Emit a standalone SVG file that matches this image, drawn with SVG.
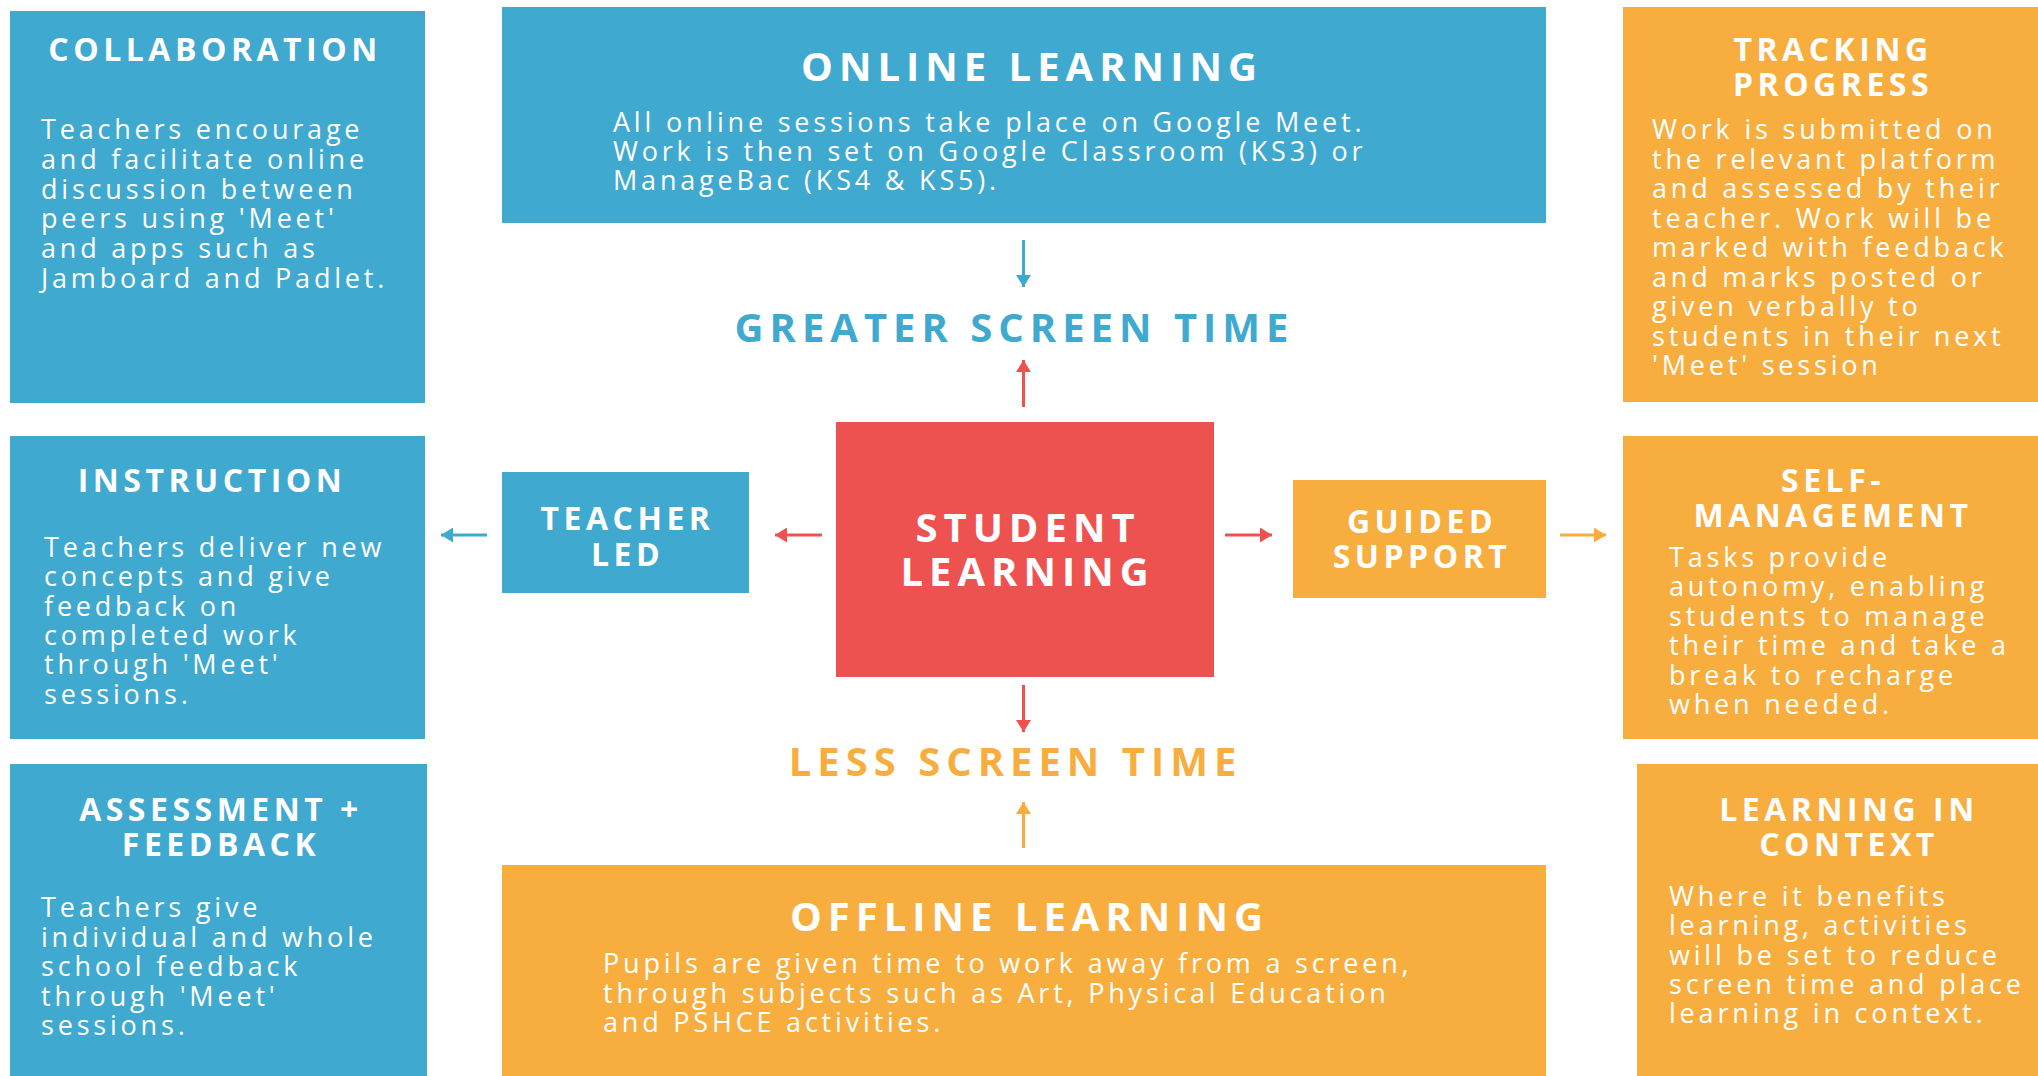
<svg xmlns="http://www.w3.org/2000/svg" width="2038" height="1076" viewBox="0 0 2038 1076">
  <style>
    .blue { fill: #3FA9CF; }
    .orange { fill: #F8AE3F; }
    .red { fill: #EE5250; }
    .title { font-family: "Open Sans", "Noto Sans", "Liberation Sans", sans-serif; font-weight: 700; font-size: 32px; letter-spacing: 4.5px; fill: #FFFFFF; text-anchor: middle; }
    .big { font-family: "Open Sans", "Noto Sans", "Liberation Sans", sans-serif; font-weight: 700; font-size: 40px; letter-spacing: 6px; text-anchor: middle; }
    .body { font-family: "Open Sans", "Noto Sans", "Liberation Sans", sans-serif; font-weight: 400; font-size: 27px; letter-spacing: 3.8px; fill: #FFFFFF; }
    .link { fill: none; stroke-width: 3; }
  </style>
  <defs>
    <marker id="head-blue" markerUnits="userSpaceOnUse" markerWidth="12" markerHeight="15" refX="12" refY="7.5" orient="auto">
      <path d="M0,0 L12,7.5 L0,15 Z" fill="#3FA9CF"/>
    </marker>
    <marker id="head-red" markerUnits="userSpaceOnUse" markerWidth="12" markerHeight="15" refX="12" refY="7.5" orient="auto">
      <path d="M0,0 L12,7.5 L0,15 Z" fill="#EE5250"/>
    </marker>
    <marker id="head-orange" markerUnits="userSpaceOnUse" markerWidth="12" markerHeight="15" refX="12" refY="7.5" orient="auto">
      <path d="M0,0 L12,7.5 L0,15 Z" fill="#F8AE3F"/>
    </marker>
  </defs>

  <rect width="2038" height="1076" fill="#FFFFFF"/>

  <!-- left column -->
  <g id="collaboration">
    <rect class="blue" x="10" y="11" width="415" height="392"/>
    <text class="title" x="215" y="61">COLLABORATION</text>
    <text class="body" x="41" y="139">
      <tspan x="41">Teachers encourage</tspan>
      <tspan x="41" dy="29.8">and facilitate online</tspan>
      <tspan x="41" dy="29.8">discussion between</tspan>
      <tspan x="41" dy="29.8">peers using 'Meet'</tspan>
      <tspan x="41" dy="29.8">and apps such as</tspan>
      <tspan x="41" dy="29.8">Jamboard and Padlet.</tspan>
    </text>
  </g>

  <g id="instruction">
    <rect class="blue" x="10" y="436" width="415" height="303"/>
    <text class="title" x="212" y="492">INSTRUCTION</text>
    <text class="body" x="44" y="557">
      <tspan x="44">Teachers deliver new</tspan>
      <tspan x="44" dy="29.3">concepts and give</tspan>
      <tspan x="44" dy="29.3">feedback on</tspan>
      <tspan x="44" dy="29.3">completed work</tspan>
      <tspan x="44" dy="29.3">through 'Meet'</tspan>
      <tspan x="44" dy="29.3">sessions.</tspan>
    </text>
  </g>

  <g id="assessment-feedback">
    <rect class="blue" x="10" y="764" width="417" height="312"/>
    <text class="title" x="221" y="821">ASSESSMENT +</text>
    <text class="title" x="221" y="856">FEEDBACK</text>
    <text class="body" x="41" y="917">
      <tspan x="41">Teachers give</tspan>
      <tspan x="41" dy="29.5">individual and whole</tspan>
      <tspan x="41" dy="29.5">school feedback</tspan>
      <tspan x="41" dy="29.5">through 'Meet'</tspan>
      <tspan x="41" dy="29.5">sessions.</tspan>
    </text>
  </g>

  <!-- centre column -->
  <g id="online-learning">
    <rect class="blue" x="502" y="7" width="1044" height="216"/>
    <text class="big" x="1032" y="81" fill="#FFFFFF">ONLINE LEARNING</text>
    <text class="body" x="613" y="132">
      <tspan x="613">All online sessions take place on Google Meet.</tspan>
      <tspan x="613" dy="29">Work is then set on Google Classroom (KS3) or</tspan>
      <tspan x="613" dy="29">ManageBac (KS4 &amp; KS5).</tspan>
    </text>
  </g>

  <g id="greater-screen-time">
    <text class="big" x="1014.5" y="342" fill="#3FA9CF">GREATER SCREEN TIME</text>
  </g>

  <g id="teacher-led">
    <rect class="blue" x="502" y="472" width="247" height="121"/>
    <text class="title" x="627.5" y="530">TEACHER</text>
    <text class="title" x="627.5" y="566">LED</text>
  </g>

  <g id="student-learning">
    <rect class="red" x="836" y="422" width="378" height="255"/>
    <text class="big" x="1028" y="542" fill="#FFFFFF">STUDENT</text>
    <text class="big" x="1027.5" y="586" fill="#FFFFFF">LEARNING</text>
  </g>

  <g id="guided-support">
    <rect class="orange" x="1293" y="480" width="253" height="118"/>
    <text class="title" x="1422" y="533">GUIDED</text>
    <text class="title" x="1422" y="568">SUPPORT</text>
  </g>

  <g id="less-screen-time">
    <text class="big" x="1015.5" y="776" fill="#F8AE3F">LESS SCREEN TIME</text>
  </g>

  <g id="offline-learning">
    <rect class="orange" x="502" y="865" width="1044" height="211"/>
    <text class="big" x="1029.5" y="931" fill="#FFFFFF">OFFLINE LEARNING</text>
    <text class="body" x="603" y="973">
      <tspan x="603">Pupils are given time to work away from a screen,</tspan>
      <tspan x="603" dy="29.5">through subjects such as Art, Physical Education</tspan>
      <tspan x="603" dy="29.5">and PSHCE activities.</tspan>
    </text>
  </g>

  <!-- right column -->
  <g id="tracking-progress">
    <rect class="orange" x="1623" y="7" width="415" height="395"/>
    <text class="title" x="1833" y="61">TRACKING</text>
    <text class="title" x="1833" y="96">PROGRESS</text>
    <text class="body" x="1652" y="139">
      <tspan x="1652">Work is submitted on</tspan>
      <tspan x="1652" dy="29.5">the relevant platform</tspan>
      <tspan x="1652" dy="29.5">and assessed by their</tspan>
      <tspan x="1652" dy="29.5">teacher. Work will be</tspan>
      <tspan x="1652" dy="29.5">marked with feedback</tspan>
      <tspan x="1652" dy="29.5">and marks posted or</tspan>
      <tspan x="1652" dy="29.5">given verbally to</tspan>
      <tspan x="1652" dy="29.5">students in their next</tspan>
      <tspan x="1652" dy="29.5">'Meet' session</tspan>
    </text>
  </g>

  <g id="self-management">
    <rect class="orange" x="1623" y="436" width="415" height="303"/>
    <text class="title" x="1833" y="492">SELF-</text>
    <text class="title" x="1833" y="527">MANAGEMENT</text>
    <text class="body" x="1669" y="567">
      <tspan x="1669">Tasks provide</tspan>
      <tspan x="1669" dy="29.4">autonomy, enabling</tspan>
      <tspan x="1669" dy="29.4">students to manage</tspan>
      <tspan x="1669" dy="29.4">their time and take a</tspan>
      <tspan x="1669" dy="29.4">break to recharge</tspan>
      <tspan x="1669" dy="29.4">when needed.</tspan>
    </text>
  </g>

  <g id="learning-in-context">
    <rect class="orange" x="1637" y="764" width="401" height="312"/>
    <text class="title" x="1849" y="821">LEARNING IN</text>
    <text class="title" x="1849" y="856">CONTEXT</text>
    <text class="body" x="1669" y="906">
      <tspan x="1669">Where it benefits</tspan>
      <tspan x="1669" dy="29.3">learning, activities</tspan>
      <tspan x="1669" dy="29.3">will be set to reduce</tspan>
      <tspan x="1669" dy="29.3">screen time and place</tspan>
      <tspan x="1669" dy="29.3">learning in context.</tspan>
    </text>
  </g>

  <!-- connectors -->
  <g id="connectors">
    <line class="link" x1="1023.5" y1="240" x2="1023.5" y2="287" stroke="#3FA9CF" marker-end="url(#head-blue)"/>
    <line class="link" x1="1023.5" y1="407" x2="1023.5" y2="360" stroke="#EE5250" marker-end="url(#head-red)"/>
    <line class="link" x1="1023.5" y1="685" x2="1023.5" y2="732" stroke="#EE5250" marker-end="url(#head-red)"/>
    <line class="link" x1="1023.5" y1="848" x2="1023.5" y2="802" stroke="#F8AE3F" marker-end="url(#head-orange)"/>
    <line class="link" x1="822" y1="535" x2="775" y2="535" stroke="#EE5250" marker-end="url(#head-red)"/>
    <line class="link" x1="487" y1="535" x2="441" y2="535" stroke="#3FA9CF" marker-end="url(#head-blue)"/>
    <line class="link" x1="1225" y1="535" x2="1272" y2="535" stroke="#EE5250" marker-end="url(#head-red)"/>
    <line class="link" x1="1560" y1="535" x2="1606" y2="535" stroke="#F8AE3F" marker-end="url(#head-orange)"/>
  </g>
</svg>
